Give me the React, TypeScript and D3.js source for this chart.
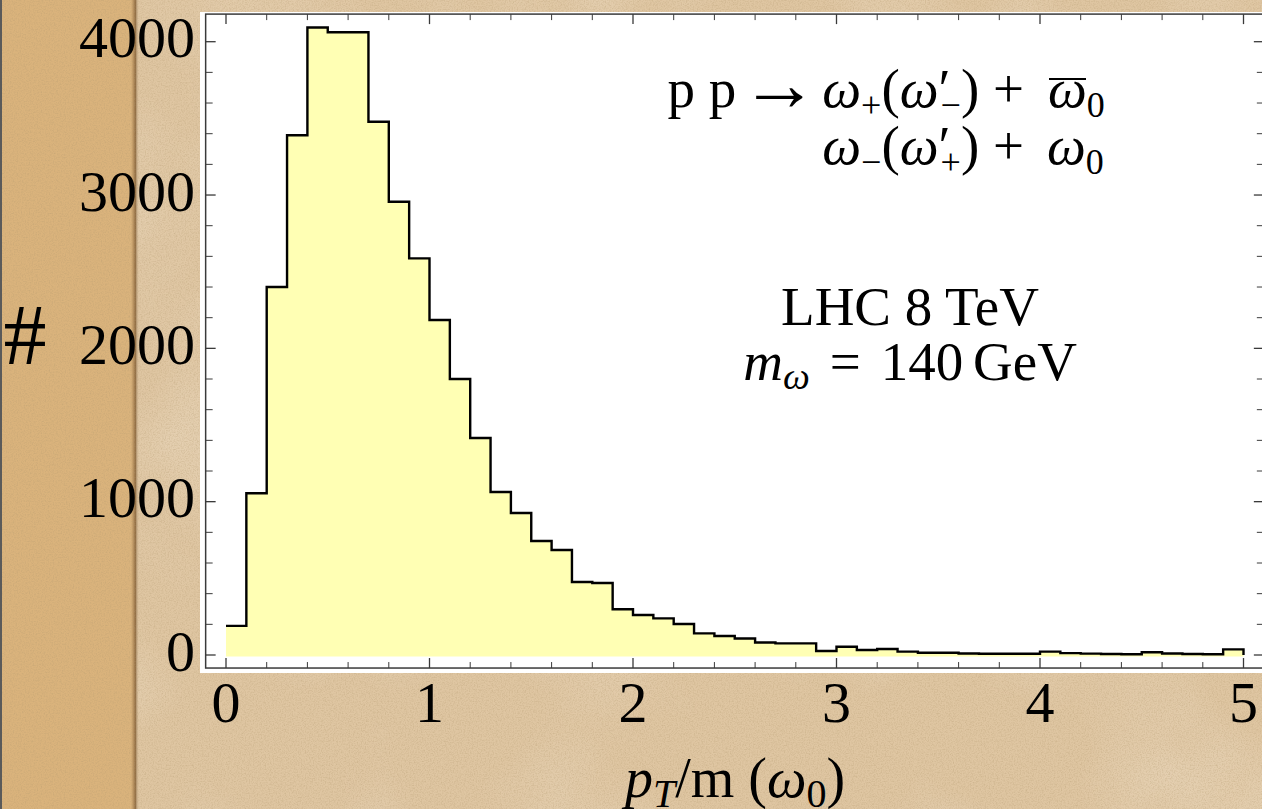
import React from "react";
import * as d3 from "d3";

// histogram of pT/m(omega_0), bins of 0.1 from 0 to 5
const binWidth = 0.1;
const counts = [
  190, 1055, 2400, 3390, 4093, 4062, 4062, 3478, 2956, 2587,
  2185, 1800, 1415, 1063, 926, 744, 685, 476, 470, 298,
  261, 239, 202, 141, 124, 108, 82, 76, 76, 26,
  54, 33, 39, 22, 15, 15, 10, 8, 8, 8,
  22, 12, 9, 7, 5, 18, 10, 7, 5, 37,
];
const xTicks = [0, 1, 2, 3, 4, 5];
const yTicks = [0, 1000, 2000, 3000, 4000];
const xMinorStep = 0.2;
const yMinorStep = 200;

const W = 1262;
const H = 809;
const serif = "'Liberation Serif', 'Times New Roman', serif";

const x = d3.scaleLinear().domain([0, 5]).range([226, 1243.5]);
const y = d3.scaleLinear().domain([0, 4000]).range([655, 41.7]);

const fLeft = x(-0.1);
const fRight = x(5.1);
const fTop = y(4180);
const fBottom = y(-85);

type Pt = { x0: number; c: number };

const App: React.FC = () => {
  const pts: Pt[] = counts.map((c, i) => ({ x0: i * binWidth, c }));
  pts.push({ x0: counts.length * binWidth, c: counts[counts.length - 1] });

  const area = d3
    .area<Pt>()
    .curve(d3.curveStepAfter)
    .x((d) => x(d.x0))
    .y0(y(0) + 1.5)
    .y1((d) => y(d.c));

  const line = d3
    .line<Pt>()
    .curve(d3.curveStepAfter)
    .x((d) => x(d.x0))
    .y((d) => y(d.c));

  const outline = [...pts, { x0: counts.length * binWidth, c: 0 }];

  const xMinor = d3.range(0, 5.001, xMinorStep).filter((v) => Math.abs(v - Math.round(v)) > 1e-6);
  const yMinor = d3.range(0, 4001, yMinorStep).filter((v) => v % 1000 !== 0);

  const tickColor = "#3a3a3a";
  const fs = 55; // annotation size
  const sub = 36;

  return (
    <svg
      width={W}
      height={H}
      style={{ position: "absolute", left: 0, top: 0, display: "block" }}
      fontFamily={serif}
    >
      <defs>
        <filter id="grain" x="0" y="0" width="100%" height="100%">
          <feTurbulence type="fractalNoise" baseFrequency="0.75" numOctaves="2" seed="4" />
          <feColorMatrix
            type="matrix"
            values="0 0 0 0 0.45  0 0 0 0 0.32  0 0 0 0 0.16  1.5 0 0 0 -0.6"
          />
        </filter>
        <filter id="blotch" x="0" y="0" width="100%" height="100%">
          <feTurbulence type="fractalNoise" baseFrequency="0.006" numOctaves="3" seed="9" />
          <feColorMatrix
            type="matrix"
            values="0 0 0 0 0.95  0 0 0 0 0.89  0 0 0 0 0.80  1.4 0 0 0 -0.6"
          />
        </filter>
        <linearGradient id="edge" x1="0" x2="1" y1="0" y2="0">
          <stop offset="0" stopColor="#9a7040" stopOpacity="0" />
          <stop offset="0.55" stopColor="#7d5a34" stopOpacity="0.8" />
          <stop offset="1" stopColor="#d2b690" stopOpacity="0" />
        </linearGradient>
      </defs>

      {/* parchment background */}
      <rect x={0} y={0} width={W} height={H} fill="#dfc6a2" />
      <rect x={0} y={0} width={W} height={H} filter="url(#blotch)" opacity={0.4} />
      <rect x={0} y={0} width={136} height={H} fill="#dab37c" />
      <rect x={131} y={0} width={8} height={H} fill="url(#edge)" />
      <rect x={0} y={0} width={W} height={H} filter="url(#grain)" opacity={0.5} />
      <rect x={0} y={0} width={2} height={H} fill="#5a5a5a" />

      {/* plot panel */}
      <rect x={200} y={12} width={W - 200} height={673 - 12} fill="#ffffff" />

      {/* histogram */}
      <path d={area(pts) ?? ""} fill="#ffffb4" />
      <path d={line(outline) ?? ""} fill="none" stroke="#000" strokeWidth={2.4} strokeLinejoin="miter" />

      {/* frame */}
      <rect
        x={fLeft}
        y={fTop}
        width={fRight - fLeft}
        height={fBottom - fTop}
        fill="none"
        stroke={tickColor}
        strokeWidth={1.5}
      />

      {/* x ticks, bottom and top */}
      {xTicks.map((v) => (
        <g key={"xt" + v} stroke={tickColor} strokeWidth={1.3}>
          <line x1={x(v)} x2={x(v)} y1={fBottom} y2={fBottom - 10} />
          <line x1={x(v)} x2={x(v)} y1={fTop} y2={fTop + 10} />
        </g>
      ))}
      {xMinor.map((v) => (
        <g key={"xm" + v} stroke={tickColor} strokeWidth={1}>
          <line x1={x(v)} x2={x(v)} y1={fBottom} y2={fBottom - 6} />
          <line x1={x(v)} x2={x(v)} y1={fTop} y2={fTop + 6} />
        </g>
      ))}

      {/* y ticks, left and right */}
      {yTicks.map((v) => (
        <g key={"yt" + v} stroke={tickColor} strokeWidth={1.3}>
          <line x1={fLeft} x2={fLeft + 10} y1={y(v)} y2={y(v)} />
          <line x1={fRight} x2={fRight - 10} y1={y(v)} y2={y(v)} />
        </g>
      ))}
      {yMinor.map((v) => (
        <g key={"ym" + v} stroke={tickColor} strokeWidth={1}>
          <line x1={fLeft} x2={fLeft + 7} y1={y(v)} y2={y(v)} />
          <line x1={fRight} x2={fRight - 7} y1={y(v)} y2={y(v)} />
        </g>
      ))}

      {/* tick labels */}
      {xTicks.map((v) => (
        <text key={"xl" + v} x={x(v)} y={721.5} fontSize={58} textAnchor="middle" fill="#000">
          {d3.format("d")(v)}
        </text>
      ))}
      {yTicks.map((v) => (
        <text key={"yl" + v} x={195} y={y(v) + 15.5} fontSize={58} textAnchor="end" fill="#000">
          {d3.format("d")(v)}
        </text>
      ))}

      {/* axis labels */}
      <text x={25} y={364} fontSize={86} textAnchor="middle" fill="#000">#</text>
      <text x={735} y={797} fontSize={56} textAnchor="middle" fill="#000">
        <tspan fontStyle="italic">p</tspan>
        <tspan fontStyle="italic" fontSize={40} dy={10}>T</tspan>
        <tspan dy={-10}>/m (</tspan>
        <tspan fontStyle="italic">ω</tspan>
        <tspan fontSize={40} dy={10}>0</tspan>
        <tspan dy={-10}>)</tspan>
      </text>

      {/* process annotation, line 1 */}
      <text x={1024} y={107} fontSize={fs} textAnchor="end" fill="#000">
        <tspan>p p</tspan>
        <tspan fontSize={78} dy={3} dx={4}>→</tspan>
        <tspan fontStyle="italic" dy={-3} dx={4}>ω</tspan>
        <tspan fontSize={sub} dy={10}>+</tspan>
        <tspan dy={-10}>(</tspan>
        <tspan fontStyle="italic">ω</tspan>
        <tspan>′</tspan>
        <tspan fontSize={sub} dy={10} dx={-10}>−</tspan>
        <tspan dy={-10}>) +</tspan>
      </text>
      <text x={1048} y={107} fontSize={fs} fill="#000">
        <tspan fontStyle="italic">ω</tspan>
        <tspan fontSize={sub} dy={10}>0</tspan>
      </text>
      <line x1={1049} x2={1086} y1={79} y2={79} stroke="#000" strokeWidth={2.2} />

      {/* process annotation, line 2 */}
      <text x={1024} y={164} fontSize={fs} textAnchor="end" fill="#000">
        <tspan fontStyle="italic">ω</tspan>
        <tspan fontSize={sub} dy={10}>−</tspan>
        <tspan dy={-10}>(</tspan>
        <tspan fontStyle="italic">ω</tspan>
        <tspan>′</tspan>
        <tspan fontSize={sub} dy={10} dx={-10}>+</tspan>
        <tspan dy={-10}>) +</tspan>
      </text>
      <text x={1047} y={164} fontSize={fs} fill="#000">
        <tspan fontStyle="italic">ω</tspan>
        <tspan fontSize={sub} dy={10}>0</tspan>
      </text>

      <text x={910} y={325} fontSize={55} textAnchor="middle" fill="#000">LHC 8 TeV</text>
      <text x={910} y={380} fontSize={55} textAnchor="middle" fill="#000">
        <tspan fontStyle="italic">m</tspan>
        <tspan fontStyle="italic" fontSize={38} dy={9}>ω</tspan>
        <tspan dy={-9} dx={20}>=</tspan>
        <tspan dx={20}>140</tspan>
        <tspan dx={-4}> GeV</tspan>
      </text>
    </svg>
  );
};

export default App;
